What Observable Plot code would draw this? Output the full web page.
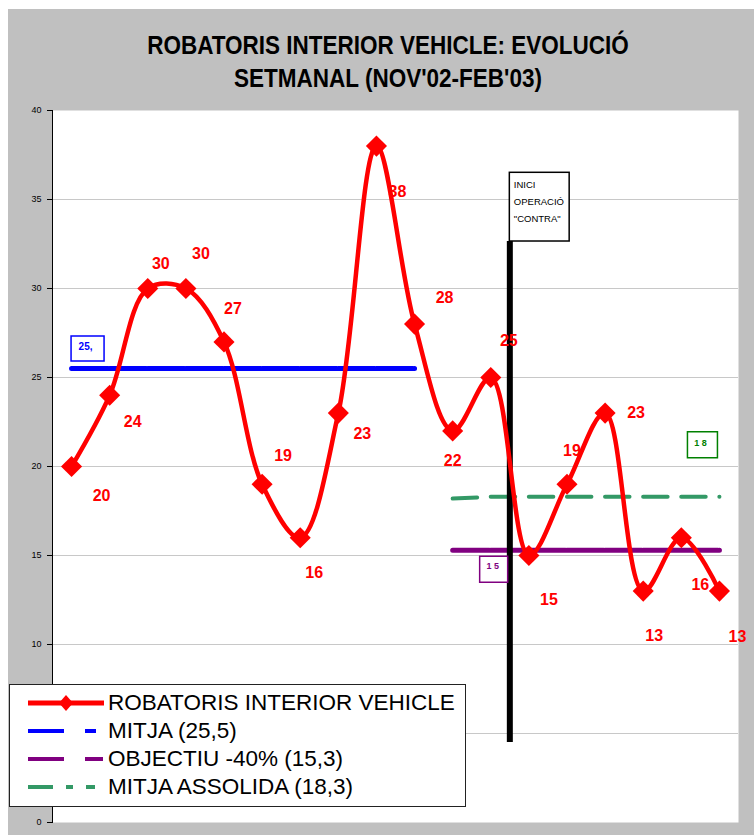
<!DOCTYPE html>
<html>
<head>
<meta charset="utf-8">
<script src="https://cdn.jsdelivr.net/npm/d3@7"></script>
<script src="https://cdn.jsdelivr.net/npm/@observablehq/plot@0.6"></script>
<style>
  html, body { margin: 0; padding: 0; background: white; }
  #wrap { position: relative; width: 754px; height: 835px; overflow: hidden; font-family: "Liberation Sans", Arial, sans-serif; }
  #bg { position: absolute; left: 8px; top: 9px; right: 0; bottom: 0; background: #c0c0c0; }
  #chart { position: absolute; left: 0; top: 0; }
  #title { position: absolute; left: 0; top: 29px; width: 776px; text-align: center; font-family: "Liberation Sans Narrow", "Arial Narrow", "Liberation Sans", Arial, sans-serif; font-weight: bold; font-size: 25px; line-height: 33px; color: #000; transform: scaleX(0.9); transform-origin: 388px 0; }
  #legend { position: absolute; left: 9px; top: 684px; width: 455px; height: 121px; background: white; border: 1px solid #222; }
  #legend .row { position: absolute; left: 0; height: 28px; width: 455px; }
  #legend svg { position: absolute; left: 0; top: 0; }
  #legend .lbl { position: absolute; left: 98px; top: 2px; font-size: 22.5px; line-height: 24px; color: #000; white-space: nowrap; }
</style>
</head>
<body>
<div id="wrap">
  <div id="bg"></div>
  <div id="chart"></div>
  <div id="title">ROBATORIS INTERIOR VEHICLE: EVOLUCIÓ<br>SETMANAL (NOV'02-FEB'03)</div>
  <div id="legend"></div>
</div>
<script>
// ---- data ----
const weeks = [1, 2, 3, 4, 5, 6, 7, 8, 9, 10, 11, 12, 13, 14, 15, 16, 17, 18];
const robatoris = [20, 24, 30, 30, 27, 19, 16, 23, 38, 28, 22, 25, 15, 19, 23, 13, 16, 13];
const mitjaWeeks = [1, 2, 3, 4, 5, 6, 7, 8, 9, 10];
const mitjaValue = 25.5;
const objectiuWeeks = [11, 12, 13, 14, 15, 16, 17, 18];
const objectiuValue = 15.3;
const assolidaWeeks = [11, 12, 13, 14, 15, 16, 17, 18];
const assolidaValues = [18.2, 18.3, 18.3, 18.3, 18.3, 18.3, 18.3, 18.3];
const yTicks = [0, 5, 10, 15, 20, 25, 30, 35, 40];
const seriesNames = ["ROBATORIS INTERIOR VEHICLE", "MITJA (25,5)", "OBJECTIU -40% (15,3)", "MITJA ASSOLIDA (18,3)"];
const contraWeek = 12.5;           // start of operation "CONTRA" (between weeks 12 and 13)
const contraText = "INICI\nOPERACIÓ\n\"CONTRA\"";

// ---- label offsets (style) ----
const labelDx = [30, 23, 13, 15, 9, 21, 14, 24, 21, 30, 0, 18, 20, 5, 31, 11, 19, 18];
const labelDy = [29, 27, -25, -35, -33, -28, 35, 21, 46, -26, 30, -37, 44, -33, 0, 45, 47, 46];

const RED = "#ff0000", BLUE = "#0000ff", PURPLE = "#800080", GREEN = "#339966";

const data = weeks.map((w, i) => ({week: w, value: robatoris[i]}));
const mitja = mitjaWeeks.map(w => ({week: w, value: mitjaValue}));
const objectiu = objectiuWeeks.map(w => ({week: w, value: objectiuValue}));
const assolida = assolidaWeeks.map((w, i) => ({week: w, value: assolidaValues[i]}));

function boxSymbol(w, h) {
  return { draw(ctx) { ctx.rect(-w / 2, -h / 2, w, h); } };
}

const xDomain = [0.5, weeks.length + 0.5];

const plot = Plot.plot({
  width: 754,
  height: 835,
  marginLeft: 52,
  marginRight: 16,
  marginTop: 110,
  marginBottom: 13,
  style: {background: "transparent", fontFamily: "'Liberation Sans', Arial, sans-serif", overflow: "visible"},
  x: {domain: xDomain, axis: null},
  y: {domain: [0, 40]},
  marks: [
    Plot.frame({fill: "white", stroke: null}),
    Plot.gridY(yTicks.filter(t => t > 0 && t < 40), {stroke: "#c8c8c8", strokeOpacity: 1}),
    Plot.frame({anchor: "left", stroke: "#000"}),
    Plot.axisY(yTicks, {tickSize: 5, tickPadding: 6, fontSize: 9, label: null, stroke: "#000", style: "letter-spacing:1.5px"}),
    // Mitja
    Plot.line(mitja, {x: "week", y: "value", stroke: BLUE, strokeWidth: 5, strokeDasharray: "36.6,1.5"}),
    // Objectiu
    Plot.line(objectiu, {x: "week", y: "value", stroke: PURPLE, strokeWidth: 5, strokeDasharray: "36.6,1.5"}),
    // Mitja assolida
    Plot.line(assolida, {x: "week", y: "value", stroke: GREEN, strokeWidth: 4, strokeDasharray: "24.5,13.6"}),
    // Operation CONTRA marker
    Plot.ruleX([contraWeek], {y1: 4.5, y2: 32.64, stroke: "#000", strokeWidth: 6}),
    Plot.rect([contraWeek], {x1: d => d, x2: d => d + 1.57, y1: 32.64, y2: 36.5, fill: "white", stroke: "#000", strokeWidth: 1.5}),
    Plot.text([contraWeek], {x: d => d, y: 36.5, text: () => contraText, textAnchor: "start", lineAnchor: "top", dx: 4, dy: 3, fontSize: 9.5, lineHeight: 1.8, fill: "#000", style: "letter-spacing:0.4px"}),
    // Series
    Plot.line(data, {x: "week", y: "value", curve: "catmull-rom", stroke: RED, strokeWidth: 4.5}),
    Plot.dot(data, {x: "week", y: "value", symbol: "diamond2", r: 9.5, fill: RED, stroke: null}),
    ...data.map((d, i) => Plot.text([d], {x: "week", y: "value", text: d => String(d.value), dx: labelDx[i], dy: labelDy[i], fill: RED, fontSize: 16, fontWeight: "bold"})),
    // truncated value boxes
    Plot.dot([mitja[0]], {x: "week", y: "value", symbol: boxSymbol(33, 25), dx: 16, dy: -20, fill: "white", stroke: BLUE, strokeWidth: 1.5}),
    Plot.text([mitja[0]], {x: "week", y: "value", text: d => String(d.value).replace(".5", ","), dx: 14, dy: -22, fill: BLUE, fontSize: 10, fontWeight: "bold", style: "letter-spacing:2.5px"}),
    Plot.dot([objectiu[0]], {x: "week", y: "value", symbol: boxSymbol(28, 26), dx: 41, dy: 19, fill: "white", stroke: PURPLE, strokeWidth: 1.5}),
    Plot.text([objectiu[0]], {x: "week", y: "value", text: d => String(Math.floor(d.value)).split("").join(" "), dx: 40, dy: 16, fill: PURPLE, fontSize: 9, fontWeight: "bold", style: "letter-spacing:1px"}),
    Plot.dot([assolida[assolida.length - 1]], {x: "week", y: "value", symbol: boxSymbol(30, 26), dx: -17, dy: -52, fill: "white", stroke: "#008000", strokeWidth: 1.5}),
    Plot.text([assolida[assolida.length - 1]], {x: "week", y: "value", text: d => String(Math.floor(d.value)).split("").join(" "), dx: -19, dy: -54, fill: "#008000", fontSize: 9, fontWeight: "bold", style: "letter-spacing:1px"})
  ]
});
document.getElementById("chart").appendChild(plot);

// ---- legend ----
const legend = d3.select("#legend");
const rowTops = [4, 32, 60, 88];
const samples = [
  {color: RED, width: 5, dash: null, marker: true},
  {color: BLUE, width: 4, dash: "36,21,11,100"},
  {color: PURPLE, width: 4, dash: "36,21,18,100"},
  {color: GREEN, width: 4, dash: "25,13,7,13,9,100"}
];
seriesNames.forEach((name, i) => {
  const row = legend.append("div").attr("class", "row").style("top", rowTops[i] + "px");
  const svg = row.append("svg").attr("width", 100).attr("height", 28);
  const s = samples[i];
  const ln = svg.append("line").attr("x1", 18).attr("x2", 94).attr("y1", 14).attr("y2", 14)
    .attr("stroke", s.color).attr("stroke-width", s.width);
  if (s.dash) ln.attr("stroke-dasharray", s.dash);
  if (s.marker) svg.append("path").attr("d", "M56,6 L63,14 L56,22 L49,14 Z").attr("fill", s.color);
  row.append("div").attr("class", "lbl").text(name);
});
</script>
</body>
</html>
